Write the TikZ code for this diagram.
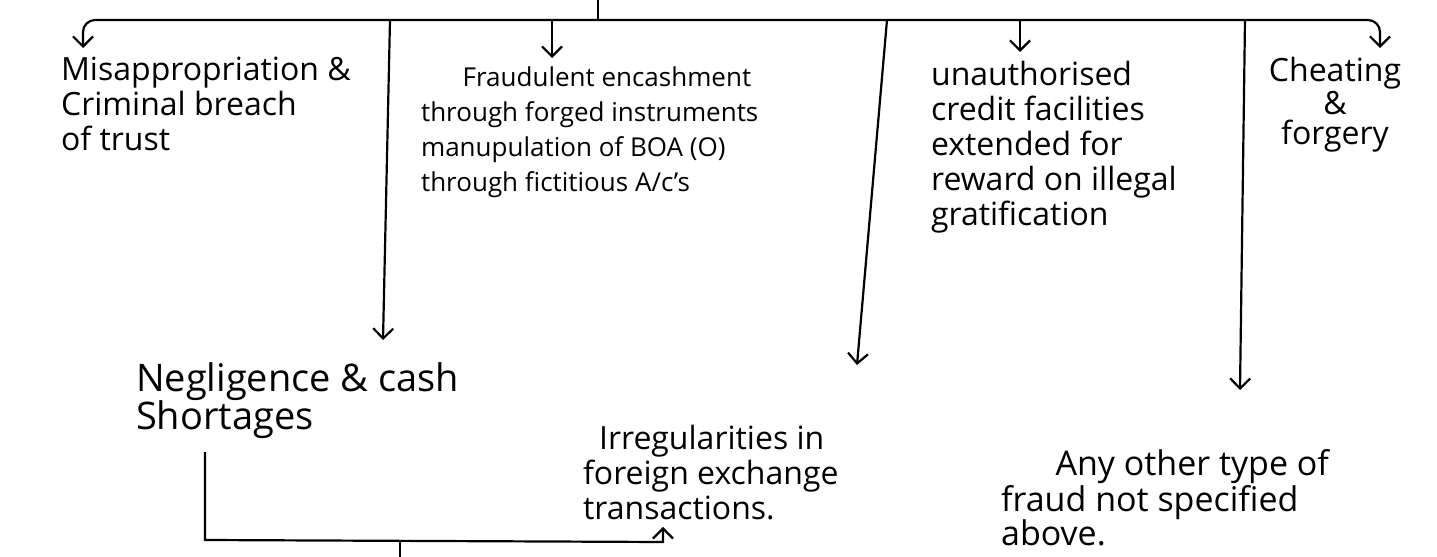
\documentclass[tikz,border=0pt]{standalone}
\usepackage{fontspec}
\setmainfont{Open Sans}
\usetikzlibrary{arrows.meta,positioning,calc}
\tikzstyle{note} = [align=left, inner sep=0pt, font=\fontsize{16}{17.5}\selectfont]

\begin{document}
\begin{tikzpicture}[x=0.5pt, y=-0.5pt, >={Straight Barb[length=5pt,width=10pt]}, line width=1.1pt]
  \useasboundingbox (0,0) rectangle (1437,557);
  % Nodes
  \node [note, anchor=north west] (mis) at (60,56) {Misappropriation \&\\Criminal breach\\of trust};
  \node [note, anchor=north west, font=\fontsize{13}{17.5}\selectfont] (fraud) at (420,66) {\hspace*{1.6em}Fraudulent encashment\\through forged instruments\\manupulation of BOA (O)\\through fictitious A/c's};
  \node [note, anchor=north west] (unauth) at (930,60) {unauthorised\\credit facilities\\extended for\\reward on illegal\\gratification};
  \node [note, align=center, anchor=north, font=\fontsize{16}{15}\selectfont] (cheat) at (1335,56) {Cheating\\\&\\forgery};
  \node [note, anchor=north west, font=\fontsize{19}{19}\selectfont] (neg) at (135,362) {Negligence \& cash\\Shortages};
  \node [note, anchor=north west] (irr) at (582,424) {\hspace*{0.5em}Irregularities in\\foreign exchange\\transactions.};
  \node [note, anchor=north west, font=\fontsize{17}{17}\selectfont] (any) at (1000,448) {\hspace*{1.6em}Any other type of\\fraud not specified\\above.};

  % Bus
  \coordinate (root) at (598,0);
  \coordinate (bl) at (83,20);
  \coordinate (br) at (1380,20);
  \coordinate (b1) at (390,20);
  \coordinate (b2) at (552,20);
  \coordinate (b3) at (887,20);
  \coordinate (b4) at (1020,20);
  \coordinate (b5) at (1245,20);
  \coordinate (e1) at (383,340);
  \coordinate (e3) at (857,365);
  \coordinate (e5) at (1240,390);

  \draw (root) -- (root |- bl);
  \draw [<->, rounded corners=6] ([yshift=4pt]bl |- mis.north) -- (bl) -- (br) -- ([yshift=4pt]br |- cheat.north);
  \draw [->] (b2) -- ([yshift=4pt]b2 |- fraud.north);
  \draw [->] (b4) -- ([yshift=4pt]b4 |- unauth.north);
  \draw [->] (b1) -- (e1);
  \draw [->] (b3) -- (e3);
  \draw [->] (b5) -- (e5);

  % Bracket below
  \coordinate (kl) at (205,540);
  \coordinate (kr) at (663,542);
  \coordinate (ko) at (400,541);
  \coordinate (kd) at (400,557);
  \draw [->] ([yshift=-6pt]kl |- neg.south) -- (kl) -- (kr) -- ([yshift=-3pt]kr |- irr.south);
  \draw (ko) -- (kd);
\end{tikzpicture}
\end{document}
